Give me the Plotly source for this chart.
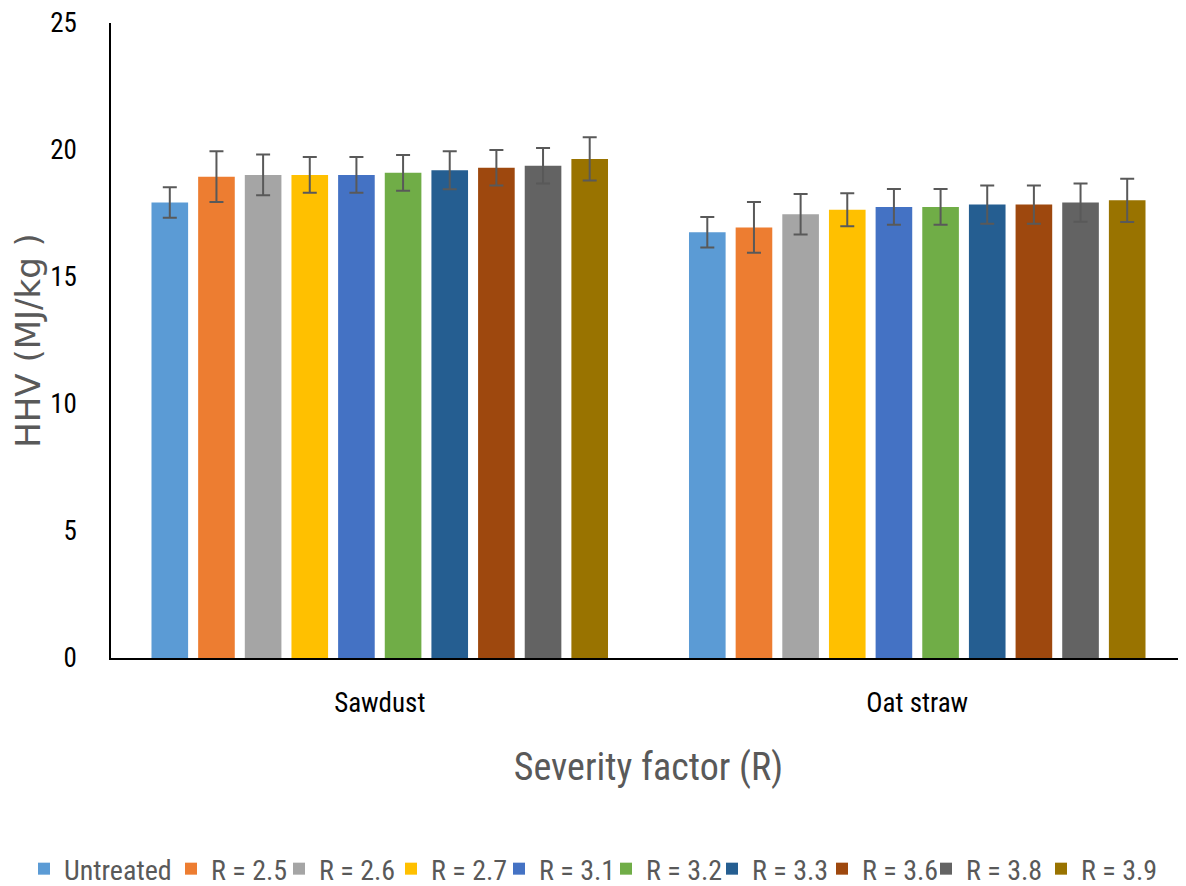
import plotly.graph_objects as go

categories = ["Sawdust", "Oat straw"]
series_names = ["Untreated", "R = 2.5", "R = 2.6", "R = 2.7", "R = 3.1",
                "R = 3.2", "R = 3.3", "R = 3.6", "R = 3.8", "R = 3.9"]
sawdust_hhv = [17.93, 18.95, 19.02, 19.02, 19.02, 19.1, 19.2, 19.3, 19.38, 19.65]
oat_straw_hhv = [16.76, 16.95, 17.47, 17.65, 17.76, 17.76, 17.85, 17.85, 17.93, 18.02]
sawdust_err = [0.6, 1.0, 0.8, 0.7, 0.7, 0.7, 0.75, 0.7, 0.7, 0.85]
oat_straw_err = [0.6, 1.0, 0.8, 0.65, 0.7, 0.7, 0.75, 0.75, 0.75, 0.85]
colors = ["#5B9BD5", "#ED7D31", "#A5A5A5", "#FFC000", "#4472C4",
          "#70AD47", "#255E91", "#9E480E", "#636363", "#997300"]

# horizontal position (page pixels) where each legend label starts
legend_text_x = [65, 212, 320, 432, 540, 647, 753, 863, 967, 1082]

COND = "Roboto Condensed, Liberation Sans Narrow, Arial Narrow, sans-serif"
W, H = 1178, 878

fig = go.Figure()
legend_layouts = {}
legend_font = dict(family=COND, size=28, color="#595959")
for i, name in enumerate(series_names):
    key = "legend" if i == 0 else f"legend{i + 1}"
    fig.add_trace(go.Bar(
        name=name,
        x=categories,
        y=[sawdust_hhv[i], oat_straw_hhv[i]],
        marker=dict(color=colors[i], line=dict(width=0)),
        error_y=dict(type="data", array=[sawdust_err[i], oat_straw_err[i]],
                     color="#595959", thickness=2, width=7),
        legend=key,
    ))
    legend_layouts[key] = dict(
        orientation="h", xref="container", yref="container",
        x=(legend_text_x[i] - 49) / W, xanchor="left",
        y=0.0194, yanchor="middle",
        font=legend_font, itemwidth=30, bgcolor="rgba(0,0,0,0)",
    )

fig.update_layout(
    width=W, height=H,
    paper_bgcolor="white", plot_bgcolor="white",
    margin=dict(l=103, r=0, t=15, b=228),
    barmode="group", bargap=0.132, bargroupgap=0.215,
    font=dict(family=COND, color="#000000"),
    showlegend=True,
    **legend_layouts,
)
fig.update_xaxes(showline=True, linecolor="#000000", linewidth=1.5, showgrid=False,
                 automargin=False, ticks="", ticklabelstandoff=20,
                 tickfont=dict(family=COND, size=27, color="#000000"),
                 title=dict(text="Severity factor (R)", standoff=35,
                            font=dict(family=COND, size=38, color="#595959")))
fig.update_yaxes(range=[0, 25], dtick=5, showline=True, linecolor="#000000", linewidth=1.5,
                 showgrid=False, automargin=False, ticks="", ticklabelstandoff=27,
                 ticklabeloverflow="allow",
                 tickfont=dict(family=COND, size=27, color="#000000"),
                 title=dict(text="HHV (MJ/kg )", standoff=5,
                            font=dict(family="DejaVu Sans, sans-serif", size=34, color="#595959")))

fig.write_html("out.html")
